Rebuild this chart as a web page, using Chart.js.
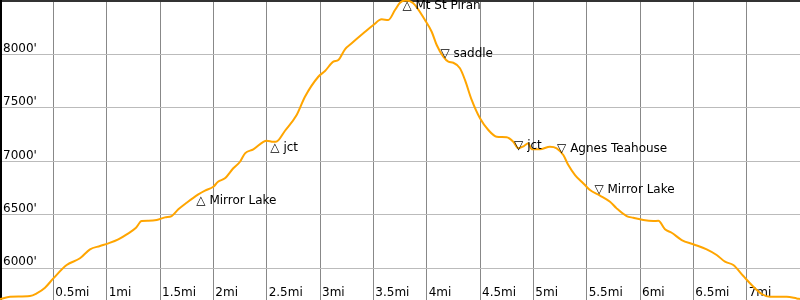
<!DOCTYPE html>
<html>
<head>
<meta charset="utf-8">
<script src="https://cdn.jsdelivr.net/npm/chart.js@4/dist/chart.umd.min.js"></script>
<style>
html,body{margin:0;padding:0;background:#fff;}
#wrap{width:800px;height:300px;}
</style>
</head>
<body>
<div id="wrap"><canvas id="c" width="800" height="300"></canvas></div>
<script>
// Distance along trail (miles)
const distances = [0.000,0.094,0.281,0.344,0.422,0.500,0.625,0.750,0.844,0.938,1.016,1.109,1.188,1.275,1.328,1.391,1.469,1.547,1.609,1.672,1.750,1.859,1.922,2.000,2.044,2.109,2.187,2.250,2.297,2.375,2.469,2.500,2.562,2.587,2.672,2.781,2.859,2.984,3.047,3.125,3.172,3.234,3.297,3.406,3.500,3.578,3.640,3.703,3.750,3.800,3.872,3.984,4.047,4.094,4.156,4.203,4.250,4.312,4.359,4.422,4.500,4.578,4.656,4.750,4.812,4.859,4.912,4.953,4.984,5.062,5.156,5.219,5.281,5.328,5.391,5.453,5.484,5.531,5.625,5.719,5.781,5.875,5.937,6.031,6.125,6.172,6.234,6.297,6.391,6.500,6.625,6.719,6.797,6.875,6.969,7.047,7.141,7.219,7.375,7.469,7.500];
// Elevation (feet)
const elevations = [5713,5734,5741,5766,5819,5906,6031,6094,6178,6209,6234,6271,6318,6380,6443,6445,6452,6477,6489,6552,6614,6692,6728,6763,6810,6842,6936,6997,7076,7113,7184,7194,7184,7184,7287,7434,7605,7792,7846,7933,7949,8049,8105,8198,8276,8329,8323,8416,8485,8505,8482,8323,8213,8089,7980,7933,7923,7871,7762,7575,7403,7294,7231,7226,7184,7123,7144,7169,7113,7113,7138,7123,7060,6966,6873,6810,6779,6733,6681,6623,6561,6489,6473,6452,6443,6445,6365,6333,6265,6225,6178,6125,6062,6031,5928,5844,5760,5734,5734,5719,5713];

// Waypoint markers
const markerNames = ["Mirror Lake","jct","Mt St Piran","saddle","jct","Agnes Teahouse","Mirror Lake"];
const markerMiles = [1.884,2.578,3.816,4.172,4.863,5.266,5.616];
const markerElevs = [6695,7191,8518,7955,7095,7070,6685];
const markerKinds = ["peak","peak","peak","valley","valley","valley","valley"];

// Axis ticks
const xTickValues = [0.5,1,1.5,2,2.5,3,3.5,4,4.5,5,5.5,6,6.5,7];
const xTickLabels = ["0.5mi","1mi","1.5mi","2mi","2.5mi","3mi","3.5mi","4mi","4.5mi","5mi","5.5mi","6mi","6.5mi","7mi"];
const yTickValues = [6000,6500,7000,7500,8000];
const yTickLabels = ["6000'","6500'","7000'","7500'","8000'"];

const X_MIN = 0, X_MAX = 7.5, Y_MIN = 5704, Y_MAX = 8510;
const FONT = '12px "DejaVu Sans"';

function flatten(s, dim) {
  if (dim === 'h') s.height = 0; else s.width = 0;
  s.paddingTop = 0; s.paddingBottom = 0; s.paddingLeft = 0; s.paddingRight = 0;
}

const markerPlugin = {
  id: 'markers',
  afterDatasetsDraw(chart) {
    const ctx = chart.ctx;
    const xs = chart.scales.x, ys = chart.scales.y;
    ctx.save();
    ctx.font = FONT;
    ctx.fillStyle = '#000';
    ctx.textAlign = 'left';
    ctx.textBaseline = 'alphabetic';
    markerNames.forEach((name, i) => {
      const px = xs.getPixelForValue(markerMiles[i]);
      const py = ys.getPixelForValue(markerElevs[i]);
      const up = markerKinds[i] === 'peak';
      const glyph = up ? '\u25B3' : '\u25BD';
      const w = ctx.measureText(glyph).width;
      const base = up ? py + 10 : py - 2;
      ctx.fillText(glyph + ' ' + name, px - w / 2, base);
    });
    ctx.restore();
  }
};

new Chart(document.getElementById('c'), {
  type: 'line',
  data: {
    datasets: [{
      data: distances.map((d, i) => ({x: d, y: elevations[i]})),
      borderColor: '#ffa500',
      borderWidth: 2,
      pointRadius: 0,
      fill: false,
      cubicInterpolationMode: 'monotone'
    }]
  },
  options: {
    responsive: false,
    animation: false,
    events: [],
    layout: {padding: 0},
    plugins: {legend: {display: false}, tooltip: {enabled: false}},
    scales: {
      x: {
        type: 'linear', position: 'bottom', min: X_MIN, max: X_MAX,
        afterBuildTicks: s => { s.ticks = xTickValues.map(v => ({value: v})); },
        afterFit: s => flatten(s, 'h'),
        grid: {color: '#888', lineWidth: 1, drawTicks: false},
        border: {display: false},
        ticks: {
          mirror: true, padding: 0, align: 'start', labelOffset: 2,
          maxRotation: 0, autoSkip: false, color: '#000',
          font: {family: 'DejaVu Sans', size: 12},
          callback: (v) => { const k = xTickValues.indexOf(v); return k >= 0 ? xTickLabels[k] : ''; }
        }
      },
      x2: {
        type: 'linear', position: 'top', min: X_MIN, max: X_MAX,
        afterFit: s => flatten(s, 'h'),
        grid: {display: false, drawTicks: false},
        border: {display: true, color: '#333', width: 3},
        ticks: {display: false}
      },
      y: {
        type: 'linear', position: 'left', min: Y_MIN, max: Y_MAX,
        afterBuildTicks: s => { s.ticks = yTickValues.map(v => ({value: v})); },
        afterFit: s => flatten(s, 'w'),
        grid: {color: '#bbb', lineWidth: 1, drawTicks: false},
        border: {display: true, color: '#000', width: 3},
        ticks: {
          mirror: true, padding: 3, labelOffset: -6, color: '#000',
          autoSkip: false,
          font: {family: 'DejaVu Sans', size: 12},
          callback: (v) => { const k = yTickValues.indexOf(v); return k >= 0 ? yTickLabels[k] : ''; }
        }
      }
    }
  },
  plugins: [markerPlugin]
});
</script>
</body>
</html>
